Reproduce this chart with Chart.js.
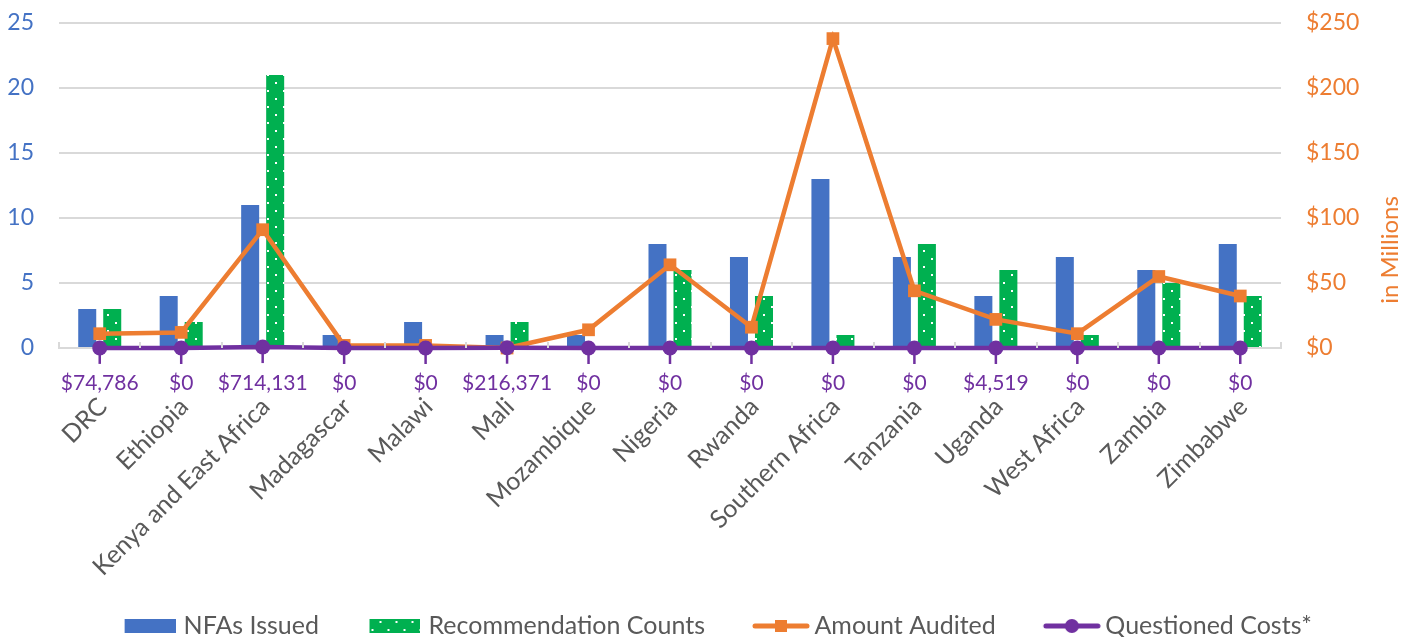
<!DOCTYPE html>
<html>
<head>
<meta charset="utf-8">
<title>NFAs, Recommendations, Amount Audited and Questioned Costs</title>
<script src="https://cdn.jsdelivr.net/npm/chart.js@4.4.1/dist/chart.umd.min.js"></script>
<style>
  html, body { margin: 0; padding: 0; background: #fff; }
  #wrap { width: 1416px; height: 637px; }
</style>
</head>
<body>
<div id="wrap"><canvas id="chart" width="1416" height="637"></canvas></div>
<script>
// Chart data
const categories = ['DRC', 'Ethiopia', 'Kenya and East Africa', 'Madagascar', 'Malawi', 'Mali', 'Mozambique',
  'Nigeria', 'Rwanda', 'Southern Africa', 'Tanzania', 'Uganda', 'West Africa', 'Zambia', 'Zimbabwe'];
const nfasIssued = [3, 4, 11, 1, 2, 1, 1, 8, 7, 13, 7, 4, 7, 6, 8];
const recommendationCounts = [3, 2, 21, 0, 0, 2, 0, 6, 4, 1, 8, 6, 1, 5, 4];
const amountAudited = [11, 12, 91, 2, 2, 0, 14, 64, 16, 238, 44, 22, 11, 55, 40]; // $ millions
const questionedCosts = [74786, 0, 714131, 0, 0, 216371, 0, 0, 0, 0, 0, 4519, 0, 0, 0]; // $
const countTicks = [0, 5, 10, 15, 20, 25];
const dollarTicks = [0, 50, 100, 150, 200, 250];

const BLUE = '#4472C4';
const GREEN = '#00B050';
const ORANGE = '#ED7D31';
const PURPLE = '#7030A0';
const GREY_TEXT = '#595959';
const GRID = '#D9D9D9';

Chart.defaults.font.family = 'Lato, "Open Sans", sans-serif';

// green fill with small white dots
function dotPattern() {
    const c = document.createElement('canvas');
    c.width = 16; c.height = 16;
    const g = c.getContext('2d');
    g.fillStyle = GREEN;
    g.fillRect(0, 0, 16, 16);
    g.fillStyle = '#fff';
    g.fillRect(3, 2, 2, 2);
    g.fillRect(11, 10, 2, 2);
    return g.createPattern(c, 'repeat');
}
const greenDots = dotPattern();

// legend icons (25px blank on the left = gap to the previous item)
const GAP = 25;
function boxIcon(fill) {
    const c = document.createElement('canvas');
    c.width = 51 + GAP; c.height = 14;
    const g = c.getContext('2d');
    g.fillStyle = fill;
    g.fillRect(GAP, 0, 51, 14);
    return c;
}
function lineIcon(color, marker) {
    const c = document.createElement('canvas');
    c.width = 58 + GAP; c.height = 16;
    const g = c.getContext('2d');
    g.translate(GAP, 0);
    g.strokeStyle = color;
    g.lineWidth = 5;
    g.lineCap = 'round';
    g.beginPath();
    g.moveTo(3, 8); g.lineTo(55, 8);
    g.stroke();
    g.fillStyle = color;
    if (marker === 'rect') {
        g.fillRect(23, 2, 12, 12);
    } else {
        g.beginPath();
        g.arc(29, 8, 7, 0, Math.PI * 2);
        g.fill();
    }
    return c;
}
const legendIcons = [boxIcon(BLUE), boxIcon(greenDots), lineIcon(ORANGE, 'rect'), lineIcon(PURPLE, 'circle')];

const fmtDollars = v => '$' + v.toLocaleString('en-US');

// extras: axis ticks between categories, drops + labels for questioned costs, right axis title
const extras = {
    id: 'extras',
    afterDatasetsDraw(chart) {
        const ctx = chart.ctx;
        const x = chart.scales.x;
        const area = chart.chartArea;
        ctx.save();

        ctx.strokeStyle = GRID;
        ctx.lineWidth = 2;
        for (let i = 0; i <= categories.length; i++) {
            const px = Math.round(x.getPixelForValue(i - 0.5));
            ctx.beginPath();
            ctx.moveTo(px, area.bottom - 6);
            ctx.lineTo(px, area.bottom);
            ctx.stroke();
        }

        const meta = chart.getDatasetMeta(3);
        ctx.strokeStyle = PURPLE;
        ctx.fillStyle = PURPLE;
        ctx.lineWidth = 2.5;
        ctx.font = '21px Lato, sans-serif';
        ctx.textAlign = 'center';
        ctx.textBaseline = 'middle';
        meta.data.forEach((pt, i) => {
            ctx.beginPath();
            ctx.moveTo(pt.x, pt.y);
            ctx.lineTo(pt.x, pt.y + 16);
            ctx.stroke();
            ctx.fillText(fmtDollars(questionedCosts[i]), pt.x, area.bottom + 35);
        });

        ctx.fillStyle = ORANGE;
        ctx.font = '24px Lato, sans-serif';
        ctx.translate(1390, 250);
        ctx.rotate(-Math.PI / 2);
        ctx.fillText('in Millions', 0, 0);
        ctx.restore();
    }
};

const noVertPadding = s => { s.paddingTop = 0; s.paddingBottom = 0; };

new Chart(document.getElementById('chart'), {
    data: {
        labels: categories,
        datasets: [
            {
                type: 'bar',
                label: 'NFAs Issued',
                data: nfasIssued,
                backgroundColor: BLUE,
                yAxisID: 'y',
                order: 2,
                categoryPercentage: 0.614,
                barPercentage: 0.72
            },
            {
                type: 'bar',
                label: 'Recommendation Counts',
                data: recommendationCounts,
                backgroundColor: greenDots,
                yAxisID: 'y',
                order: 2,
                categoryPercentage: 0.614,
                barPercentage: 0.72
            },
            {
                type: 'line',
                label: 'Amount Audited',
                data: amountAudited,
                borderColor: ORANGE,
                backgroundColor: ORANGE,
                borderWidth: 4.5,
                pointStyle: 'rect',
                pointRadius: 9,
                pointBorderWidth: 0,
                tension: 0,
                clip: false,
                yAxisID: 'y1',
                order: 1
            },
            {
                type: 'line',
                label: 'Questioned Costs*',
                data: questionedCosts.map(v => v / 1e6),
                borderColor: PURPLE,
                backgroundColor: PURPLE,
                borderWidth: 4.5,
                pointStyle: 'circle',
                pointRadius: 7.5,
                pointBorderWidth: 0,
                tension: 0,
                clip: false,
                yAxisID: 'y1',
                order: 0
            }
        ]
    },
    options: {
        responsive: false,
        animation: false,
        layout: { padding: { top: 23, bottom: -11.5, left: 0, right: 0 } },
        plugins: {
            tooltip: { enabled: false },
            legend: {
                position: 'bottom',
                labels: {
                    usePointStyle: true,
                    pointStyleWidth: 67,
                    boxHeight: 14,
                    padding: 30,
                    color: GREY_TEXT,
                    font: { size: 25 },
                    generateLabels: chart => chart.data.datasets.map((ds, i) => ({
                        text: ds.label,
                        pointStyle: legendIcons[i],
                        fontColor: GREY_TEXT,
                        datasetIndex: i,
                        hidden: false
                    }))
                }
            }
        },
        scales: {
            x: {
                afterFit: s => { s.height = 235.5; },
                grid: { display: false, drawTicks: false },
                border: { display: true, color: GRID, width: 2 },
                ticks: {
                    autoSkip: false,
                    maxRotation: 45,
                    minRotation: 45,
                    padding: 44,
                    labelOffset: 3,
                    color: GREY_TEXT,
                    font: { size: 25 }
                }
            },
            y: {
                position: 'left',
                min: countTicks[0],
                max: countTicks[countTicks.length - 1],
                afterFit: s => { s.width = 59; noVertPadding(s); },
                afterBuildTicks: s => { s.ticks = countTicks.map(v => ({ value: v })); },
                grid: { color: GRID, lineWidth: 2, drawTicks: false },
                border: { display: false },
                ticks: { color: BLUE, padding: 25, font: { size: 23 } }
            },
            y1: {
                position: 'right',
                min: dollarTicks[0],
                max: dollarTicks[dollarTicks.length - 1],
                afterFit: s => { s.width = 135; noVertPadding(s); },
                afterBuildTicks: s => { s.ticks = dollarTicks.map(v => ({ value: v })); },
                grid: { display: false, drawTicks: false },
                border: { display: false },
                ticks: { color: ORANGE, padding: 25, font: { size: 23 }, callback: v => '$' + v }
            }
        }
    },
    plugins: [extras]
});
</script>
</body>
</html>
